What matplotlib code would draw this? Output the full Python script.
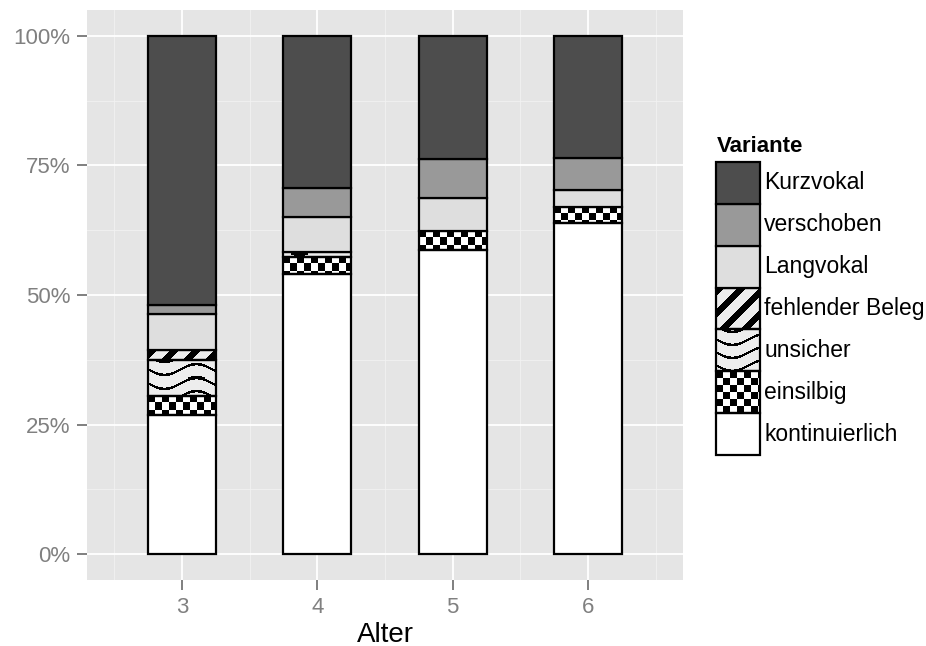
import matplotlib
matplotlib.use("Agg")
import matplotlib.pyplot as plt
import numpy as np
from matplotlib.patches import Rectangle
from matplotlib.ticker import PercentFormatter, MultipleLocator

plt.rcParams['font.family'] = ['Liberation Sans', 'DejaVu Sans']

# Daten (Anteile in Prozent, von unten nach oben gestapelt)
alter = [3, 4, 5, 6]
varianten = ['kontinuierlich', 'einsilbig', 'unsicher', 'fehlender Beleg',
             'Langvokal', 'verschoben', 'Kurzvokal']
kontinuierlich = [26.8, 54.0, 58.6, 63.8]
einsilbig = [3.7, 3.3, 3.7, 3.2]
unsicher = [7.0, 1.0, 0.0, 0.0]
fehlender_beleg = [1.9, 0.0, 0.0, 0.0]
langvokal = [6.9, 6.8, 6.4, 3.2]
verschoben = [1.7, 5.6, 7.5, 6.2]
kurzvokal = [52.0, 29.3, 23.8, 23.6]

werte = [kontinuierlich, einsilbig, unsicher, fehlender_beleg,
         langvokal, verschoben, kurzvokal]

# Füllung: Farbe oder Muster
fuellung = {
    'kontinuierlich': '#ffffff',
    'einsilbig': 'checker',
    'unsicher': 'waves',
    'fehlender Beleg': 'stripes',
    'Langvokal': '#dedede',
    'verschoben': '#999999',
    'Kurzvokal': '#4d4d4d',
}


def textur(art, w, h):
    """Erzeugt ein RGB-Muster mit w x h Pixeln."""
    px, py = np.meshgrid(np.arange(w), np.arange(h))
    bg = np.full((h, w, 3), 0.93)
    if art == 'checker':
        bg[:] = 1.0
        dunkel = ((px // 7 + py // 7) % 2) == 0
    elif art == 'stripes':
        dunkel = ((px + py) % 22) < 9
    else:  # waves
        d = (py + 3 - 5.5 * np.sin(2 * np.pi * px / 64.0)) % 13.0
        dunkel = np.minimum(d, 13.0 - d) < 1.4
    bg[dunkel] = 0.0
    return bg


def zeichne_feld(ax, x0, y0, breite, hoehe, art, lw=1.6):
    if art.startswith('#'):
        ax.add_patch(Rectangle((x0, y0), breite, hoehe, facecolor=art,
                               edgecolor='black', lw=lw, zorder=3, clip_on=False))
        return
    p0 = ax.transData.transform((x0, y0))
    p1 = ax.transData.transform((x0 + breite, y0 + hoehe))
    w = max(int(round(abs(p1[0] - p0[0]))), 1)
    h = max(int(round(abs(p1[1] - p0[1]))), 1)
    ax.imshow(textur(art, w, h), extent=[x0, x0 + breite, y0, y0 + hoehe],
              aspect='auto', interpolation='nearest', zorder=2, clip_on=False)
    ax.add_patch(Rectangle((x0, y0), breite, hoehe, facecolor='none',
                           edgecolor='black', lw=lw, zorder=3, clip_on=False))


W, H, DPI = 926, 646, 100
fig = plt.figure(figsize=(W / DPI, H / DPI), dpi=DPI)
ax = fig.add_axes([87 / W, (H - 580) / H, 596 / W, 570 / H])
ax.set_facecolor('#e5e5e5')
ax.set_xlim(2.3, 6.7)
ax.set_ylim(-5, 105)

ax.xaxis.set_major_locator(MultipleLocator(1))
ax.xaxis.set_minor_locator(MultipleLocator(0.5))
ax.yaxis.set_major_locator(MultipleLocator(25))
ax.yaxis.set_minor_locator(MultipleLocator(12.5))
ax.yaxis.set_major_formatter(PercentFormatter(decimals=0))
ax.grid(True, which='major', color='white', lw=1.3)
ax.grid(True, which='minor', color='#f2f2f2', lw=0.6)
ax.set_axisbelow(True)
for s in ax.spines.values():
    s.set_visible(False)
ax.tick_params(which='major', length=7, width=1.4, color='#7f7f7f',
               labelcolor='#808080', labelsize=16, pad=5)
ax.tick_params(which='minor', length=0)

breite = 0.5
unten = np.zeros(len(alter))
for name, vals in zip(varianten, werte):
    for i, a in enumerate(alter):
        if vals[i] > 0:
            zeichne_feld(ax, a - breite / 2, unten[i], breite, vals[i], fuellung[name])
    unten += np.array(vals)

ax.set_xlim(2.3, 6.7)
ax.set_ylim(-5, 105)
ax.set_xlabel('Alter', fontsize=20, labelpad=3)

# Legende
lax = fig.add_axes([716 / W, (H - 455) / H, 44 / W, 293 / H])
lax.set_xlim(0, 1)
lax.set_ylim(0, len(varianten))
lax.axis('off')
for k, name in enumerate(varianten):
    zeichne_feld(lax, 0, k, 1, 1, fuellung[name])
    fig.text(764 / W, 1 - (455 - 293 / 7 * (k + 0.5)) / H, name,
             fontsize=16.5, va='center', ha='left')
fig.text(717 / W, 1 - 152 / H, 'Variante', fontsize=16, fontweight='bold',
         va='baseline', ha='left')

fig.savefig('out.png', dpi=DPI)
